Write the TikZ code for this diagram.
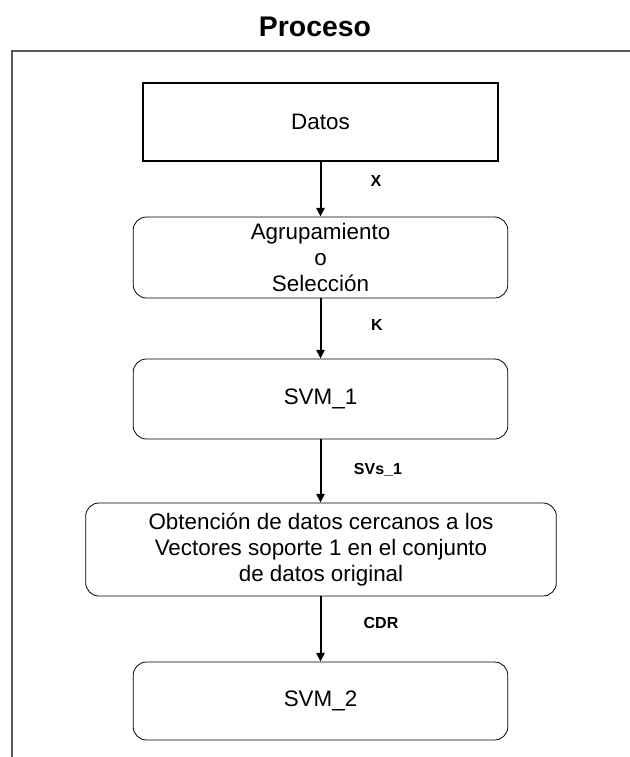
\documentclass[tikz,border=0pt]{standalone}
\usepackage{fontspec}
\setmainfont{Liberation Sans}
\usetikzlibrary{arrows.meta}
\usetikzlibrary{positioning}

\tikzset{
  caja/.style={draw=black,line width=0.6pt,rounded corners=10pt,align=center,
    inner sep=0pt,font=\fontsize{16.8}{19.8}\selectfont},
  flecha/.style={-{Triangle[length=6.5pt,width=6pt]},line width=1.5pt},
  etiqueta/.style={font=\fontsize{12}{14}\selectfont\bfseries},
}

\begin{document}
\begin{tikzpicture}[x=0.75pt,y=-0.75pt]
\useasboundingbox (0,0) rectangle (630,757);

% marco
\draw[gray!70!black,line width=1.1pt] (12,757) -- (12,51) -- (630,51);

\node (titulo) at (315,27) {\fontsize{21.3}{25}\selectfont\bfseries Proceso};

% cajas
\node[caja,rounded corners=0pt,line width=1.2pt,minimum width=266pt,minimum height=58.5pt] (datos) at (320.5,122) {Datos};
\node[caja,minimum width=281pt,minimum height=60.75pt] (agrup) at (320.5,257.5) {Agrupamiento\\o\\Selección};
\node[caja,minimum width=281pt,minimum height=60pt] (svm1) at (320.5,399) {SVM\_1};
\node[caja,minimum width=353pt,minimum height=69.75pt] (obten) at (321,549.5) {Obtención de datos cercanos a los\\Vectores soporte 1 en el conjunto\\de datos original};
\node[caja,minimum width=281pt,minimum height=58.5pt] (svm2) at (320.5,701) {SVM\_2};

% flechas
\draw[flecha] (datos) -- (agrup);
\draw[flecha] (agrup) -- (svm1);
\draw[flecha] (svm1.south) -- (svm1.south |- obten.north);
\draw[flecha] (obten.south -| svm2.north) -- (svm2.north);

% etiquetas
\node[etiqueta] (lx) at (376,181) {X};
\node[etiqueta] (lk) at (377,325) {K};
\node[etiqueta] (lsvs) at (378,470) {SVs\_1};
\node[etiqueta] (lcdr) at (381,623) {CDR};
\end{tikzpicture}
\end{document}
